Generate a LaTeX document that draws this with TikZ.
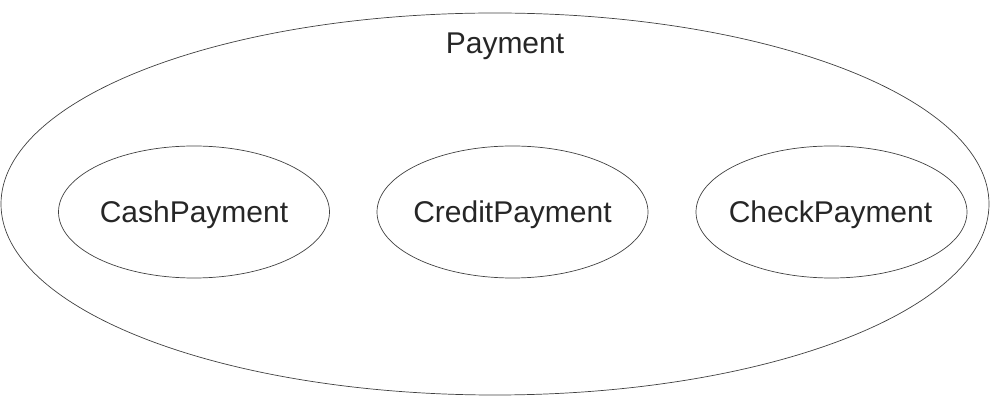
\documentclass[tikz,border=0pt]{standalone}
\usepackage{fontspec}
\setmainfont{Liberation Sans}
\usetikzlibrary{shapes.geometric}
\begin{document}
\begin{tikzpicture}[x=1pt,y=1pt,
  cls/.style={draw=black!75,line width=0.7pt,ellipse,inner sep=0pt},
  inner/.style={cls,minimum width=271pt,minimum height=132pt},
  lbl/.style={anchor=base,inner sep=0pt,font=\fontsize{30}{36}\selectfont,text=black!85}]
\useasboundingbox (0,0) rectangle (991,396);
\node[cls,minimum width=988pt,minimum height=382pt] (payment) at (495,192) {};
\node[lbl] (plabel) at (505,342) {Payment};
\node[inner] (cash) at (194,184) {};
\node[inner] (credit) at (512.5,184) {};
\node[inner] (check) at (831.5,184) {};
\node[lbl] (cashlabel) at (194,173) {CashPayment};
\node[lbl] (creditlabel) at (512.5,173) {CreditPayment};
\node[lbl] (checklabel) at (830.5,173) {CheckPayment};
\end{tikzpicture}
\end{document}
